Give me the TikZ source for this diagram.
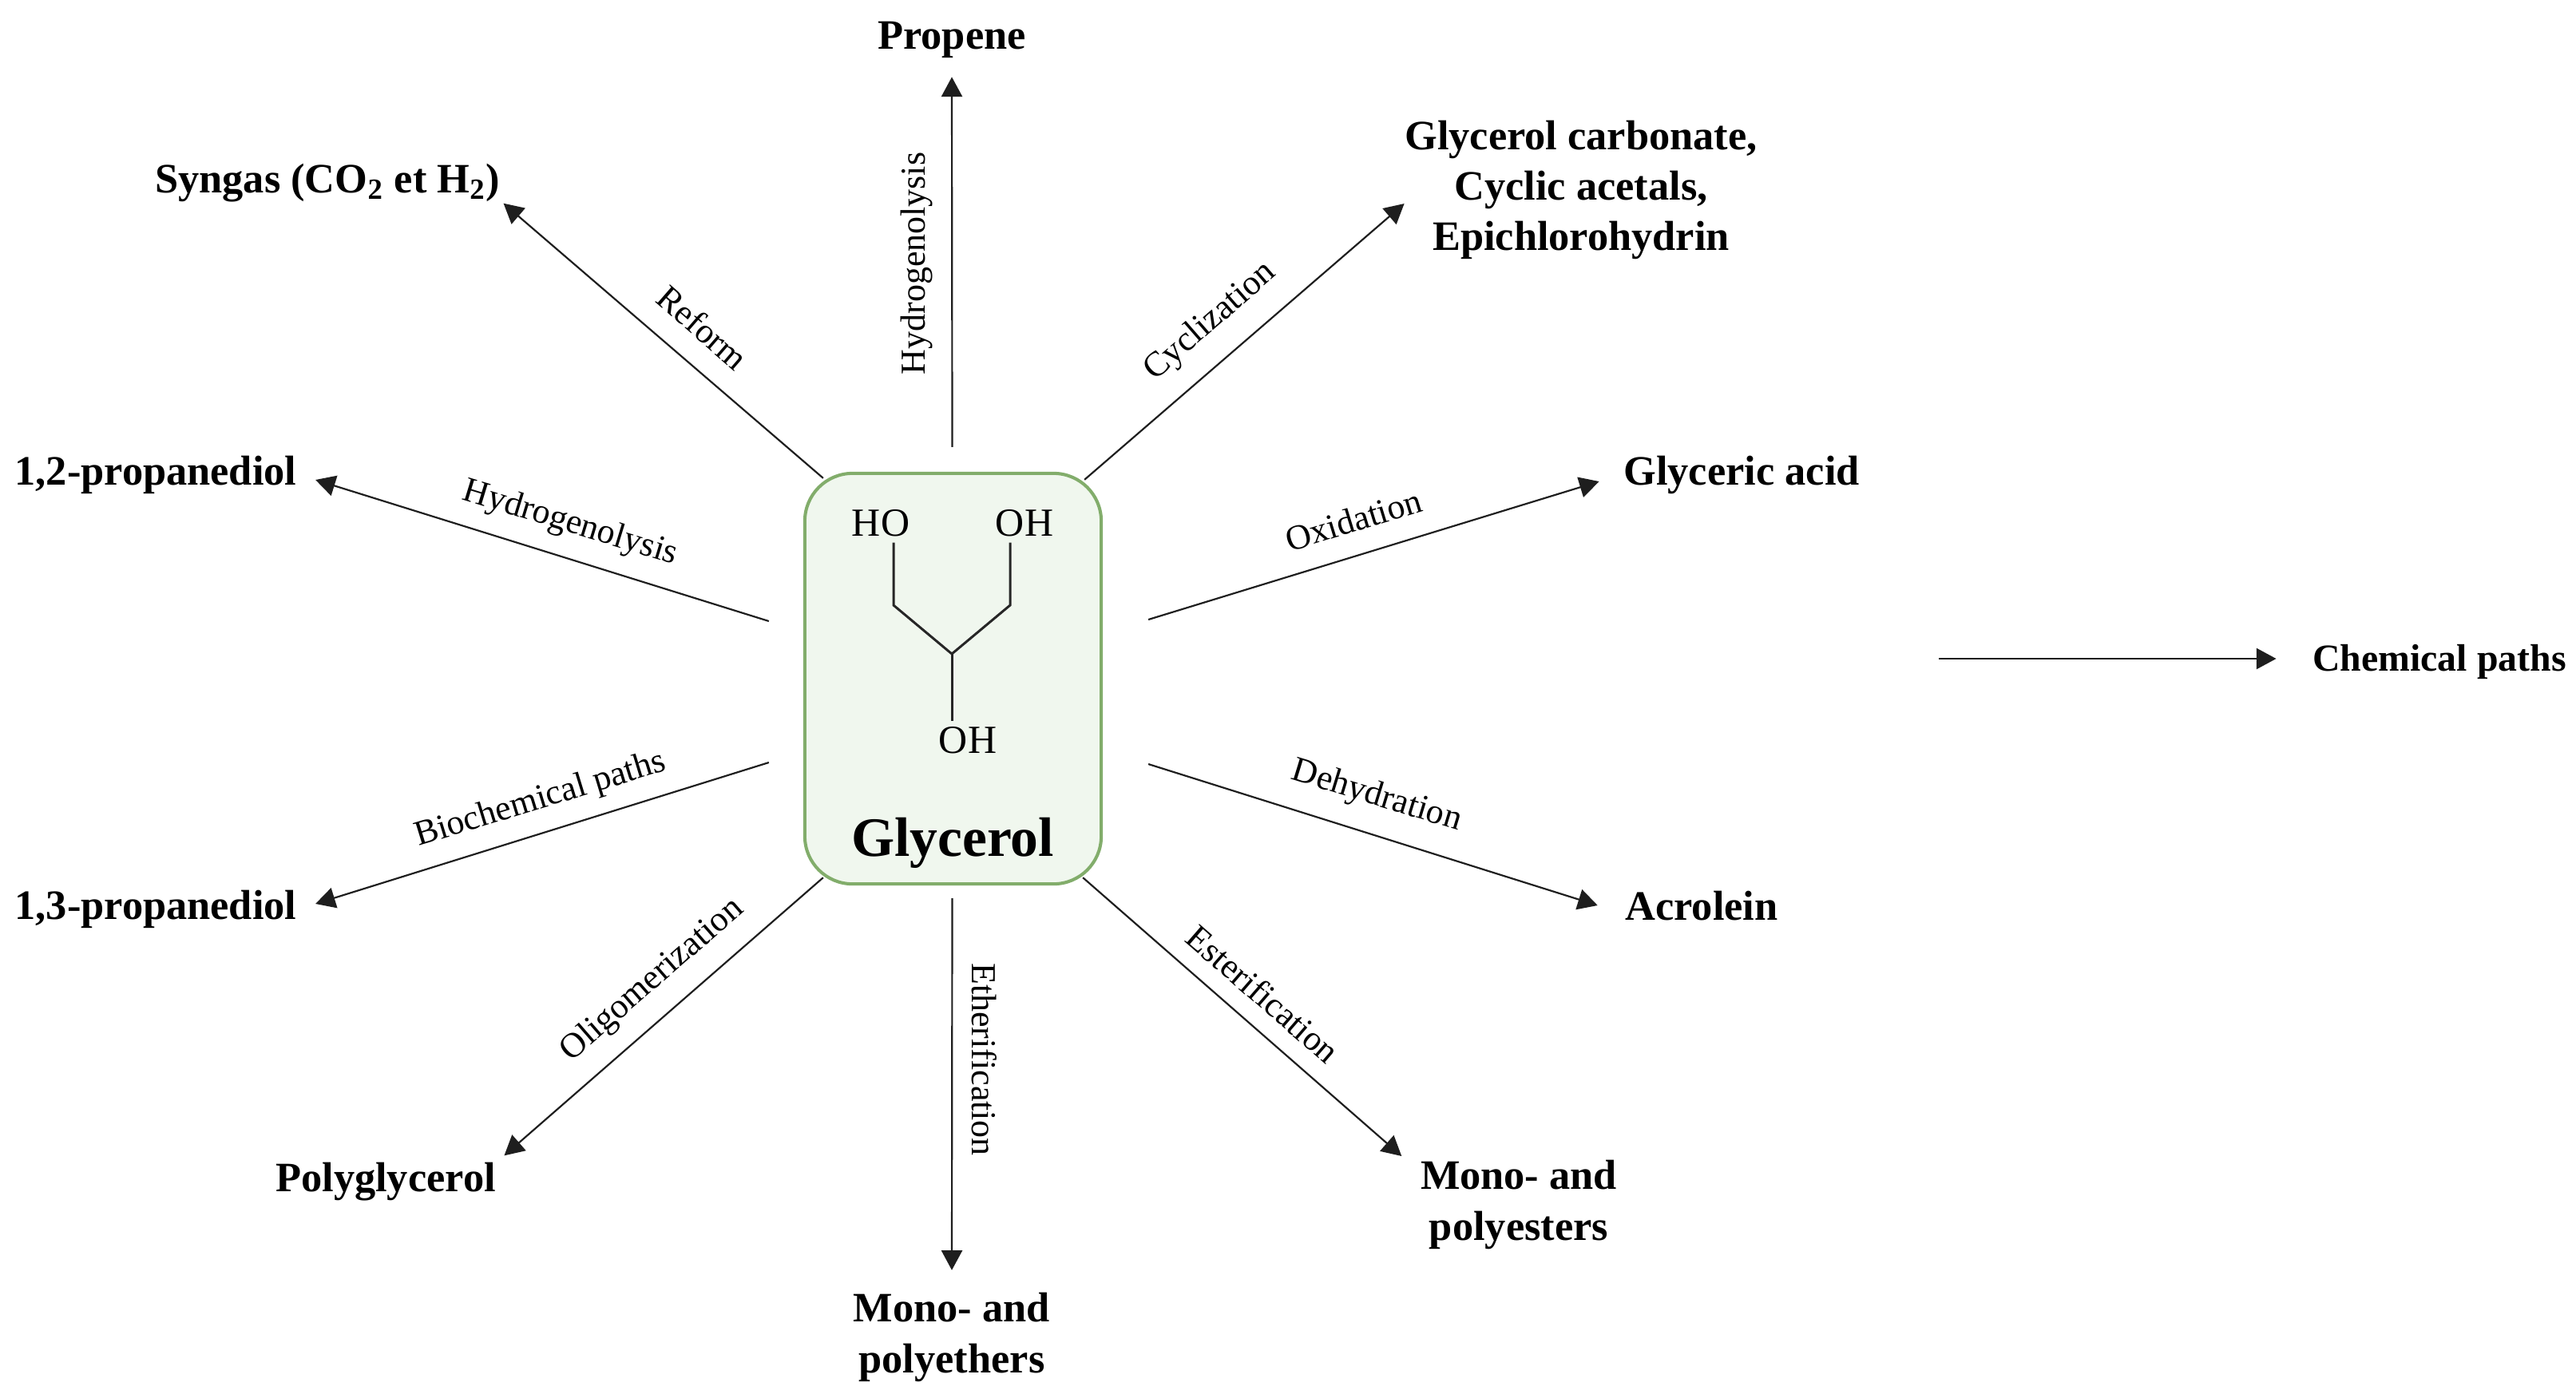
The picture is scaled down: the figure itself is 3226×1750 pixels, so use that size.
\documentclass[tikz,border=0pt]{standalone}
\usepackage{fontspec}
\setmainfont{Liberation Serif}
\usepackage{xcolor}
\usetikzlibrary{arrows.meta,calc}
\definecolor{glyline}{RGB}{130,173,107}
\definecolor{glyfill}{RGB}{240,247,238}
\definecolor{arrline}{RGB}{30,30,30}
\tikzset{
  glybox/.style={draw=glyline, line width=1.15pt, fill=glyfill, rounded corners=17pt, minimum width=3.71cm, minimum height=5.14cm, inner sep=0pt},
  prod/.style={font=\fontsize{14.9}{18}\selectfont\bfseries, align=center, inner sep=0pt},
  lab/.style={font=\fontsize{12.5}{15}\selectfont, inner sep=0pt},
  atom/.style={font=\fontsize{14.2}{16}\selectfont, inner sep=2pt},
  arr/.style={-{Triangle[length=7pt,width=7.4pt]}, arrline, line width=0.62pt},
  bond/.style={black!85, line width=0.85pt},
}
\begin{document}
\begin{tikzpicture}[x=0.01cm, y=-0.01cm]
  \useasboundingbox (0,0) rectangle (3226,1750);
  % centre box
  \node[glybox] (gly) at (1193.5,850) {};
  \node[font=\fontsize{19.8}{22}\selectfont\bfseries, inner sep=0pt] (glyname) at (1193,1056) {Glycerol};
  % molecule
  \node[atom] (ho) at (1103,655) {HO};
  \node[atom] (oha) at (1283,655) {OH};
  \node[atom] (ohb) at (1212,927) {OH};
  \coordinate (ca) at (1119,758);
  \coordinate (cb) at (1192,819);
  \coordinate (cc) at (1265,758);
  \draw[bond] (ca |- ho.south) -- (ca) -- (cb) -- (cc) -- (cc |- oha.south);
  \draw[bond] (cb) -- (cb |- ohb.north);
  % products
  \node[prod] (propene) at (1192,50) {Propene};
  \node[prod] (syngas) at (410,229) {Syngas (CO\textsubscript{2} et H\textsubscript{2})};
  \node[prod] (carb) at (1980,238) {Glycerol carbonate,\\Cyclic acetals,\\Epichlorohydrin};
  \node[prod] (acid) at (2181,595) {Glyceric acid};
  \node[prod] (pdiola) at (195,595) {1,2-propanediol};
  \node[prod] (pdiolb) at (195,1139) {1,3-propanediol};
  \node[prod] (acro) at (2131,1135) {Acrolein};
  \node[prod] (poly) at (483,1480) {Polyglycerol};
  \node[prod] (ethers) at (1192,1675) {Mono- and\\polyethers};
  \node[prod] (esters) at (1902,1509) {Mono- and\\polyesters};
  \node[prod, font=\fontsize{13.6}{18}\selectfont\bfseries] (legend) at (3055,829) {Chemical paths};
  \coordinate (legstart) at (2428,825);
  % arrows
  \draw[arr] ($(gly.north)+(-1,-31)$) -- ($(propene.south)+(0,23)$);
  \draw[arr] ($(gly.north west)+(25,8)$) -- ($(syngas.south east)+(4,1)$);
  \draw[arr] ($(gly.north east)+(-23,10)$) -- ($(carb.west)+(0,17)$);
  \draw[arr] ($(gly.west)+(-43,-72)$) -- ($(pdiola.east)+(23,6)$);
  \draw[arr] ($(gly.east)+(57,-74)$) -- ($(acid.west)+(-30,8)$);
  \draw[arr] ($(gly.west)+(-43,105)$) -- ($(pdiolb.east)+(23,-7)$);
  \draw[arr] ($(gly.east)+(57,107)$) -- ($(acro.west)+(-34,-1)$);
  \draw[arr] ($(gly.south west)+(25,-10)$) -- ($(poly.north east)+(10,-8)$);
  \draw[arr] ($(gly.south)+(-1,16)$) -- ($(ethers.north)+(0,-28)$);
  \draw[arr] ($(gly.south east)+(-25,-10)$) -- ($(esters.west)+(-23,-61)$);
  \draw[arr] (legstart) -- ($(legend.west)+(-45,-4)$);
  % labels on the paths
  \node[lab, rotate=90] (lhyda) at (1148,330) {Hydrogenolysis};
  \node[lab, rotate=-41] (lref) at (880,410) {Reform};
  \node[lab, rotate=41] (lcyc) at (1516,403) {Cyclization};
  \node[lab, rotate=-17] (lhydb) at (714,656) {Hydrogenolysis};
  \node[lab, rotate=17] (loxi) at (1695,651) {Oxidation};
  \node[lab, rotate=17] (lbio) at (677,1002) {Biochemical paths};
  \node[lab, rotate=-17] (ldeh) at (1724,998) {Dehydration};
  \node[lab, rotate=41] (lolig) at (817,1228) {Oligomerization};
  \node[lab, rotate=-90] (leth) at (1233,1327) {Etherification};
  \node[lab, rotate=-41] (lest) at (1582,1245) {Esterification};
\end{tikzpicture}
\end{document}
